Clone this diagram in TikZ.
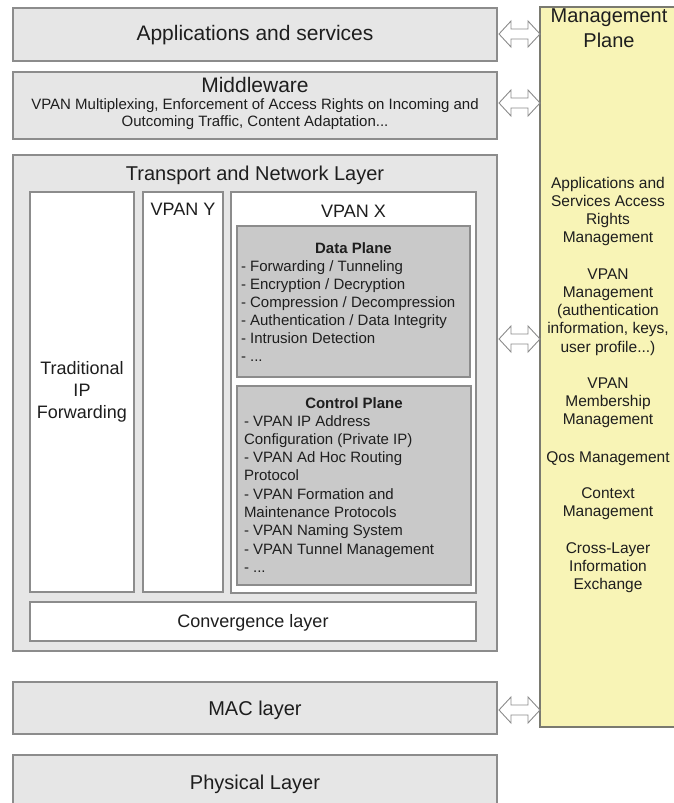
\documentclass[tikz,border=0pt]{standalone}
\usepackage{fontspec}
\setmainfont{Liberation Sans}
\usetikzlibrary{calc}
\definecolor{layerfill}{HTML}{E6E6E6}
\definecolor{edge}{HTML}{8C8C8C}
\definecolor{planefill}{HTML}{C9C9C9}
\definecolor{mgmtfill}{HTML}{F8F4B6}
\definecolor{mgmtedge}{HTML}{7A7A70}
\definecolor{ink}{HTML}{1E1E1E}
\newcommand\fTitle{\fontsize{21}{25}\selectfont}
\newcommand\fSub{\fontsize{20}{25}\selectfont}
\newcommand\fMid{\fontsize{18}{22}\selectfont}
\newcommand\fBody{\fontsize{15}{17}\selectfont}
\newcommand\fList{\fontsize{15}{18}\selectfont}
\newcommand\fCtl{\fontsize{15}{18.3}\selectfont}
\newcommand\fMg{\fontsize{15.5}{18.3}\selectfont}
\begin{document}
\begin{tikzpicture}[x=1pt,y=-1pt,
  box/.style={draw=edge, line width=1.2pt, anchor=north west, inner sep=0pt, outer sep=0pt},
  layer/.style={box, fill=layerfill},
  wbox/.style={box, fill=white},
  plane/.style={box, fill=planefill},
  mgmtbox/.style={box, fill=mgmtfill, draw=mgmtedge},
  txt/.style={anchor=base, inner sep=0pt, outer sep=0pt, text=ink, align=center},
  ltxt/.style={anchor=base west, inner sep=0pt, outer sep=0pt, text=ink, align=left},
  arrowsty/.style={draw=edge, fill=white, line width=0.9pt, line join=miter}
]
\useasboundingbox (0,0) rectangle (674,803);

% management plane
\node[mgmtbox, minimum width=150pt, minimum height=720pt] (mgmt) at (540,7) {};

% layers
\node[layer, minimum width=484pt, minimum height=53pt] (app) at (13,8) {};
\node[layer, minimum width=484pt, minimum height=67pt] (mw) at (13,72) {};
\node[layer, minimum width=484pt, minimum height=496pt] (tn) at (13,155) {};
\node[wbox, minimum width=104pt, minimum height=400pt] (trad) at (30,192) {};
\node[wbox, minimum width=80pt, minimum height=400pt] (vy) at (143,192) {};
\node[wbox, minimum width=245pt, minimum height=401pt] (vx) at (231,192) {};
\node[plane, minimum width=233pt, minimum height=151pt] (dp) at (237,226) {};
\node[plane, minimum width=234pt, minimum height=199pt] (cp) at (237,386) {};
\node[wbox, minimum width=446pt, minimum height=39pt] (conv) at (30,602) {};
\node[layer, minimum width=484pt, minimum height=52pt] (mac) at (13,682) {};
\node[layer, minimum width=484pt, minimum height=70pt] (phy) at (13,755) {};

% texts (multi-line nodes are placed by the baseline of their last line)
\node[txt, font=\fTitle] (tapp) at (255,40) {Applications and services};
\node[txt, font=\fTitle] (tmw) at (255,92) {Middleware};
\node[txt, font=\fBody] (tmwd) at (255,126.5) {VPAN Multiplexing, Enforcement of Access Rights on Incoming and\\Outcoming Traffic, Content Adaptation...};
\node[txt, font=\fSub] (ttn) at (255,180) {Transport and Network Layer};
\node[txt, font=\fMid] (ttrad) at (82,418) {Traditional\\IP\\Forwarding};
\node[txt, font=\fMid] (tvy) at (183,215) {VPAN Y};
\node[txt, font=\fMid] (tvx) at (353.5,217) {VPAN X};
\node[txt, font=\fList\bfseries] (tdp) at (353.5,253) {Data Plane};
\node[ltxt, font=\fList] (tdpl) at (241,361) {- Forwarding / Tunneling\\- Encryption / Decryption\\- Compression / Decompression\\- Authentication / Data Integrity\\- Intrusion Detection\\- ...};
\node[txt, font=\fList\bfseries] (tcp) at (354,408) {Control Plane};
\node[ltxt, font=\fCtl] (tcpl) at (244,572.4) {- VPAN IP Address\\Configuration (Private IP)\\- VPAN Ad Hoc Routing\\Protocol\\- VPAN Formation and\\Maintenance Protocols\\- VPAN Naming System\\- VPAN Tunnel Management\\- ...};
\node[txt, font=\fMid] (tconv) at (253,627.5) {Convergence layer};
\node[txt, font=\fSub] (tmac) at (255,715) {MAC layer};
\node[txt, font=\fSub] (tphy) at (255,789) {Physical Layer};

\node[txt, font=\fSub] (tmg) at (609,22) {Management};
\node[txt, font=\fSub] (tmg2) at (609,47) {Plane};
\node[txt, font=\fMg] (g1) at (608,242.9) {Applications and\\Services Access\\Rights\\Management};
\node[txt, font=\fMg] (g2) at (608,352.2) {VPAN\\Management\\(authentication\\information, keys,\\user profile...)};
\node[txt, font=\fMg] (g3) at (608,424.6) {VPAN\\Membership\\Management};
\node[txt, font=\fMg] (g4) at (608,462) {Qos Management};
\node[txt, font=\fMg] (g5) at (608,516.3) {Context\\Management};
\node[txt, font=\fMg] (g6) at (608,589.6) {Cross-Layer\\Information\\Exchange};

% hollow double arrows between layers and management plane
\coordinate (ya1) at (0,34);
\coordinate (ya2) at (0,103);
\coordinate (ya3) at (0,339);
\coordinate (ya4) at (0,710);
\foreach \n in {1,2,3,4}{
  \draw[arrowsty] ($(mgmt.west |- ya\n)+(-41,0)$) -- ++(12,-13) -- ++(0,8) -- ++(17,0) -- ++(0,-8)
     -- ++(12,13) -- ++(-12,13) -- ++(0,-8) -- ++(-17,0) -- ++(0,8) -- cycle;
}
\end{tikzpicture}
\end{document}
